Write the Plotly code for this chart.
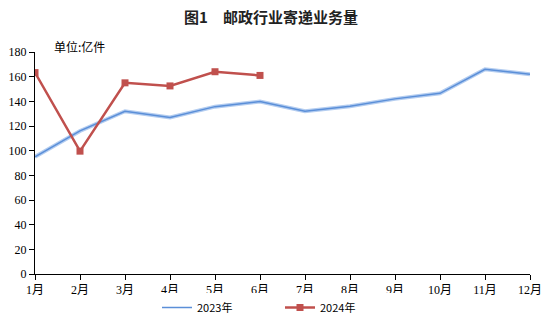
import plotly.graph_objects as go

months = ["1月", "2月", "3月", "4月", "5月", "6月", "7月", "8月", "9月", "10月", "11月", "12月"]
y2023 = [95, 116, 132, 127, 135.7, 139.8, 132, 136, 142, 146.5, 166, 162]
y2024 = [163.3, 99.6, 155, 152.5, 164, 161]

font_serif = "Liberation Serif, Noto Sans CJK SC"
fig = go.Figure()
fig.add_trace(go.Scatter(x=months, y=y2023, mode="lines", line=dict(color="#b4cdf0", width=4),
                         showlegend=False, hoverinfo="skip"))
fig.add_trace(go.Scatter(x=months, y=y2023, mode="lines", name="2023年",
                         line=dict(color="#5b8fd8", width=1.5)))
fig.add_trace(go.Scatter(x=months[:len(y2024)], y=y2024, mode="lines+markers", name="2024年",
                         line=dict(color="#c0504d", width=2.5),
                         marker=dict(symbol="square", size=7, color="#c0504d")))

fig.update_layout(
    width=542, height=322,
    margin=dict(l=35, r=12, t=52, b=48, autoexpand=False),
    paper_bgcolor="white", plot_bgcolor="white",
    title=dict(text="<b>图1　邮政行业寄递业务量</b>", x=0.5, xanchor="center", y=0.945, yanchor="middle",
               font=dict(family="Noto Sans CJK SC", size=15, color="#222")),
    xaxis=dict(range=[0, 11], showline=True, linecolor="black", linewidth=1, ticks="outside",
               ticklen=5, tickcolor="black", showgrid=False, zeroline=False, automargin=False,
               tickfont=dict(family=font_serif, size=12, color="black")),
    yaxis=dict(range=[0, 180], dtick=20, showline=True, linecolor="black", linewidth=1,
               ticks="outside", ticklen=5, tickcolor="black", showgrid=False, zeroline=False,
               automargin=False,
               tickfont=dict(family=font_serif, size=12, color="black")),
    legend=dict(orientation="h", x=(157 - 35) / 495, xanchor="left", yref="container", y=0.0,
                yanchor="bottom", entrywidth=78, entrywidthmode="pixels",
                font=dict(family="Noto Sans CJK SC", size=11, color="black"),
                tracegroupgap=0),
    annotations=[dict(text="单位:亿件", xref="paper", yref="paper", x=0.035, y=1.027,
                      xanchor="left", yanchor="middle", showarrow=False,
                      font=dict(family="Noto Sans CJK SC", size=12, color="black"))],
)
fig.write_html("out.html")
